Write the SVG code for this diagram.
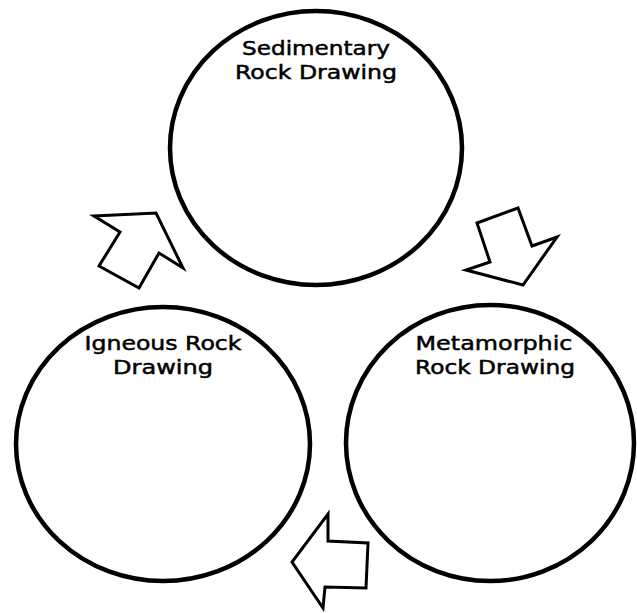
<svg xmlns="http://www.w3.org/2000/svg" width="637" height="613" viewBox="0 0 637 613">
<style>
.c{fill:#fff;stroke:#000;stroke-width:4.5}
.a{fill:#fff;stroke:#000;stroke-width:3;stroke-linejoin:miter}
.t{font-family:"DejaVu Sans","Noto Sans",sans-serif;font-size:20px;fill:#000;stroke:#000;stroke-width:0.5;text-anchor:middle}
</style>
<rect width="637" height="613" fill="#fff"/>
<g id="sedimentary">
<ellipse class="c" cx="316" cy="148" rx="146" ry="137"/>
<text class="t" x="316" y="55" textLength="148" lengthAdjust="spacingAndGlyphs">Sedimentary</text>
<text class="t" x="316" y="79" textLength="162" lengthAdjust="spacingAndGlyphs">Rock Drawing</text>
</g>
<g id="igneous">
<ellipse class="c" cx="163" cy="444" rx="147" ry="137"/>
<text class="t" x="163" y="350" textLength="157" lengthAdjust="spacingAndGlyphs">Igneous Rock</text>
<text class="t" x="163" y="374" textLength="100" lengthAdjust="spacingAndGlyphs">Drawing</text>
</g>
<g id="metamorphic">
<ellipse class="c" cx="490" cy="443" rx="144" ry="138"/>
<text class="t" x="494" y="350" textLength="157" lengthAdjust="spacingAndGlyphs">Metamorphic</text>
<text class="t" x="495" y="374" textLength="160" lengthAdjust="spacingAndGlyphs">Rock Drawing</text>
</g>
<g id="connectors">
<polygon class="a" points="94,216 156,213 183,268 159,253 139,288 99,266 120,232"/>
<polygon class="a" points="477,223 518,208 532,246 557,237 523,285 466,270 490,262"/>
<polygon class="a" points="328,514 328,541 368,543 366,588 325,587 323,608 292,562"/>
</g>
</svg>
